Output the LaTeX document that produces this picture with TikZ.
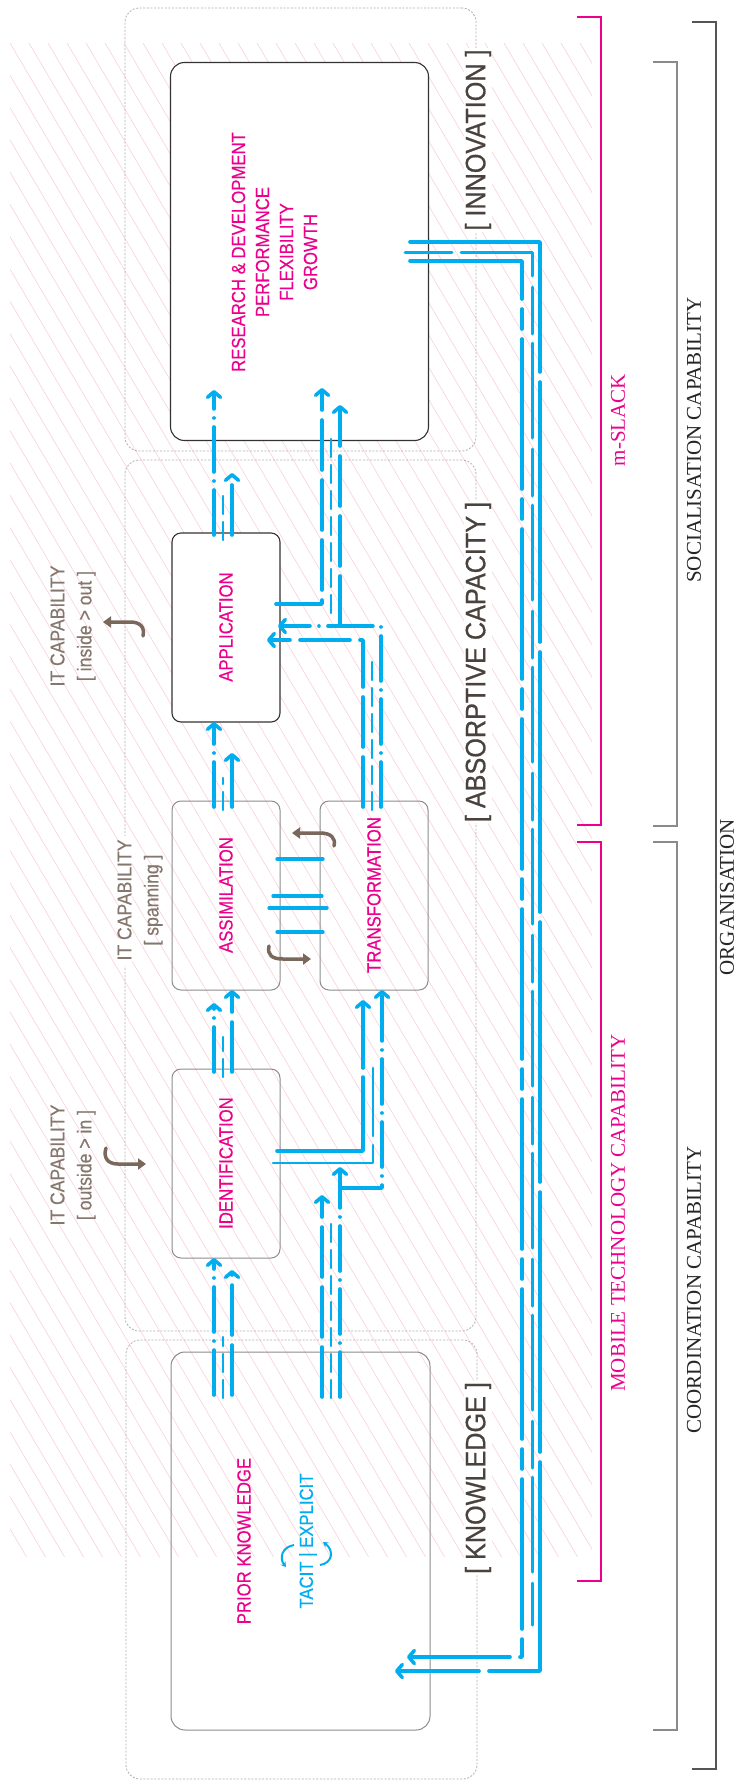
\documentclass[tikz,border=0pt]{standalone}
\usepackage{fontspec}
\setmainfont{Liberation Serif}
\newfontfamily\condsans[FakeStretch=0.88,FakeBold=0.4]{Liberation Sans}
\newfontfamily\titlesans[FakeStretch=0.9,FakeBold=0.6]{Liberation Sans}
\usetikzlibrary{arrows.meta}
\definecolor{cblue}{HTML}{00AEEF}
\definecolor{cmag}{HTML}{EC008C}
\definecolor{ctitle}{HTML}{4A423D}
\definecolor{citcap}{HTML}{85776E}
\definecolor{cbrown}{HTML}{7A685D}
\definecolor{chatch}{HTML}{F9D0DC}
\definecolor{cboxd}{HTML}{333333}
\definecolor{cboxl}{HTML}{8C8C8C}
\definecolor{cdot}{HTML}{B4AEAE}
\definecolor{cbrk}{HTML}{8A8A8A}
\definecolor{corg}{HTML}{555555}
\begin{document}
\begin{tikzpicture}[x=1pt,y=-1pt,
  outerbox/.style={draw=cdot, line width=0.8pt, dash pattern=on 2pt off 1.6pt, rounded corners=14pt, minimum width=351pt, inner sep=0pt, outer sep=0pt},
  boxd/.style={draw=cboxd, line width=1.1pt, fill=white, rounded corners=9pt, inner sep=0pt, outer sep=0pt},
  boxl/.style={draw=cboxl, line width=1pt, rounded corners=9pt, inner sep=0pt, outer sep=0pt},
  lbl/.style={text=cmag, font=\condsans\fontsize{19}{24}\selectfont, rotate=90, inner sep=0pt},
  title/.style={text=ctitle, font=\titlesans\fontsize{28}{30}\selectfont, rotate=90, fill=white, inner sep=1pt},
  itlbl/.style={text=citcap, font=\condsans\fontsize{20}{27}\selectfont, rotate=90, align=center, inner sep=0pt},
  serif/.style={font=\fontsize{21}{25}\selectfont, rotate=90, inner sep=0pt},
  bl/.style={draw=cblue, line width=3.6pt, line cap=round, line join=round},
  blt/.style={draw=cblue, line width=2.4pt, line cap=round, line join=round},
  arr/.style={-{Straight Barb[length=5.5pt,width=13pt,round]}},
  pa/.style={dash pattern=on 45pt off 9pt on 0.01pt off 9pt},
  pb/.style={dash pattern=on 50pt off 10pt},
  pc/.style={dash pattern=on 18pt off 8pt},
  brownarr/.style={draw=cbrown, line width=3.5pt, line cap=round, -{Triangle[length=8pt,width=11pt]}},
  tkarr/.style={draw=cblue, line width=2pt, -{Stealth[length=5pt,width=6pt]}},
  brk/.style={line width=1.5pt}
]
\useasboundingbox (0,0) rectangle (738,1783);
\fill[white] (0,0) rectangle (738,1783);

% hatch
\begin{scope}
\clip (10,43) rectangle (592,1557);
\foreach \i in {-48,...,31} \draw[chatch, line width=0.6pt] ({10+19*\i},43) -- ++(890.6,1514);
\end{scope}

% outer dashed boxes
\node[outerbox, minimum height=443pt] (oinnov) at (300.5,229.5) {};
\node[outerbox, minimum height=871pt] (oabs) at (300.5,895.5) {};
\node[outerbox, minimum height=439pt] (oknow) at (301.5,1559.5) {};

% inner boxes
\node[boxd, rounded corners=14pt, minimum width=258pt, minimum height=378pt] (innov) at (299.5,251.5) {};
\node[boxd, minimum width=108pt, minimum height=189pt] (appl) at (226,627.5) {};
\node[boxl, minimum width=108pt, minimum height=189pt] (assim) at (226,895.5) {};
\node[boxl, minimum width=108pt, minimum height=189pt] (trans) at (374,895.5) {};
\node[boxl, minimum width=108pt, minimum height=189pt] (ident) at (226,1163.5) {};
\node[boxl, rounded corners=14pt, minimum width=259pt, minimum height=378pt] (know) at (300.5,1541) {};

% brackets
\draw[brk, draw=cmag, line width=1.2pt] (577,17) -- (601,17) -- (601,825) -- (577,825);
\draw[brk, draw=cmag, line width=1.2pt] (577,842) -- (601,842) -- (601,1581) -- (577,1581);
\draw[brk, draw=cbrk] (653,62) -- (677,62) -- (677,826) -- (653,826);
\draw[brk, draw=cbrk] (653,842) -- (677,842) -- (677,1730) -- (653,1730);
\draw[brk, draw=corg] (692,22) -- (716,22) -- (716,1769) -- (692,1769);

% white patch under spanning label
\fill[white] (119,836) rectangle (132,966);

% Knowledge -> Identification
\draw[bl,pa,arr] (214,1395) -- (214,0 |- ident.south);
\draw[blt,pc] (223,1398) -- (223,1337);
\draw[bl,pb,arr] (232,1395) -- (232,1270);
% Identification -> Assimilation
\draw[bl,pa,arr] (214,1072) -- (214,1003);
\draw[blt,pc] (223,1077) -- (223,1037);
\draw[bl,pb,arr] (232,1072) -- (232,0 |- assim.south);
% Assimilation -> Application
\draw[bl,pa,arr] (214,807) -- (214,0 |- appl.south);
\draw[blt,pc] (223,810) -- (223,778);
\draw[bl,pb,arr] (232,807) -- (232,753);
% Application -> Innovation
\draw[bl,pa,arr] (214,535) -- (214,390);
\draw[blt,pc] (223,540) -- (223,492);
\draw[bl,pb,arr] (232,535) -- (232,473);

% Knowledge -> Transformation
\draw[bl,pb,arr] (322,1397) -- (322,1195);
\draw[blt,pc] (331,1398) -- (331,1223);
\draw[bl,pa,arr] (340,1397) -- (340,1167);
\draw[bl,pa,arr] (340,1188) -- (382,1188) -- (382,0 |- trans.south);
% Identification -> Transformation
\draw[bl,dash pattern=on 160pt off 9pt on 100pt off 0pt,arr] (277,1151) -- (363,1151) -- (363,1000);
\draw[blt,line width=2.8pt,dash pattern=on 118pt off 9pt on 100pt off 0pt] (273,1163) -- (373,1163) -- (373,1068);

% Assimilation <-> Transformation
\draw[bl, line width=3.3pt] (277,859) -- (323,859);
\draw[bl, line width=3.3pt] (273,896) -- (322,896);
\draw[bl, line width=3.3pt] (269,908) -- (327,908);
\draw[bl, line width=3.3pt] (277,932) -- (323,932);

% Transformation -> Application / Innovation
\draw[bl,pb,arr] (363,807) -- (363,640) -- (267,640);
\draw[blt,pc] (372,810) -- (372,662);
\draw[bl,pa,arr] (381,807) -- (381,626) -- (278,626);
\draw[bl,pb,arr] (340,626) -- (340,405);
\draw[bl,pb,arr] (276,604) -- (322,604) -- (322,388);
\draw[blt,pc] (331,613) -- (331,433);

% Innovation -> Knowledge feedback
\draw[bl, dash pattern=on 260pt off 10pt, arr] (410,242) -- (540,242) -- (540,1671) -- (395,1671);
\draw[bl, line width=3pt, dash pattern=on 47pt off 9pt on 95pt off 11pt] (405,252) -- (532,252) -- (532,1625);
\draw[bl, dash pattern=on 150pt off 10pt on 20pt off 10pt, arr] (410,261) -- (522,261) -- (522,1657) -- (407,1657);

% brown hooked arrows
\draw[brownarr] (106,1148) .. controls (103,1158) and (108,1164) .. (118,1164) -- (146,1164);
\draw[brownarr] (143,636) .. controls (145,627) and (140,622) .. (130,622) -- (103,622);
\draw[brownarr] (334,846) .. controls (336,838) and (331,833) .. (320,833) -- (292,833);
\draw[brownarr] (269,946) .. controls (267,955) and (272,959) .. (283,959) -- (311,959);

% tacit/explicit arrows
\draw[tkarr] (294,1545) .. controls (282,1547) and (279,1558) .. (286,1567);
\draw[tkarr] (320,1565) .. controls (333,1563) and (334,1550) .. (323,1542);

% box labels
\node[lbl, align=center] (tinnovtxt) at (274.5,252) {RESEARCH \& DEVELOPMENT\\PERFORMANCE\\FLEXIBILITY\\GROWTH};
\node[lbl] (tappl) at (226,627) {APPLICATION};
\node[lbl] (tassim) at (226,895) {ASSIMILATION};
\node[lbl] (ttrans) at (374,895) {TRANSFORMATION};
\node[lbl] (tident) at (226,1163) {IDENTIFICATION};
\node[lbl] (tprior) at (244,1541) {PRIOR KNOWLEDGE};
\node[lbl, text=cblue] (ttacit) at (308,1541) {TACIT | EXPLICIT};

% titles
\node[title] (tinnov) at (478,140) {{[} INNOVATION {]}};
\node[title] (tabs) at (478,662) {{[} ABSORPTIVE CAPACITY {]}};
\node[title] (tknow) at (478,1478) {{[} KNOWLEDGE {]}};

% IT capability labels
\node[itlbl] (itin) at (73,1165) {IT CAPABILITY\\{[} outside > in {]}};
\node[itlbl] (itout) at (73,626) {IT CAPABILITY\\{[} inside > out {]}};
\node[itlbl] (itspan) at (140,900) {IT CAPABILITY\\{[} spanning {]}};

% bracket labels
\node[serif, text=cmag] (mslack) at (618,420) {m-SLACK};
\node[serif, text=cmag] (mobile) at (618,1213) {MOBILE TECHNOLOGY CAPABILITY};
\node[serif, text=black!85] (social) at (694,440) {SOCIALISATION CAPABILITY};
\node[serif, text=black!85] (coord) at (694,1290) {COORDINATION CAPABILITY};
\node[serif, text=black!85] (organ) at (727,897) {ORGANISATION};
\end{tikzpicture}
\end{document}
